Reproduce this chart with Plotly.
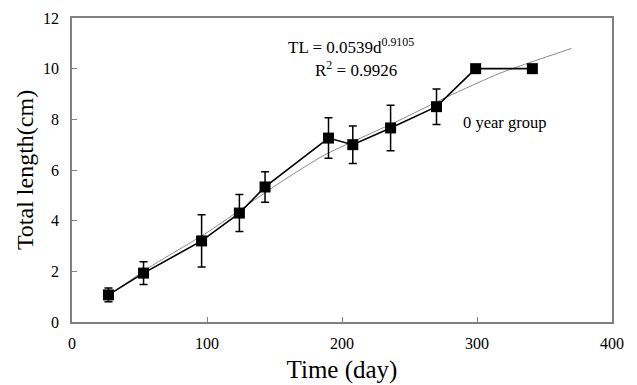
import plotly.graph_objects as go

# Observed data (0 year group)
days = [27, 53, 96, 124, 143, 190, 208, 236, 270, 299, 341]
total_length = [1.07, 1.93, 3.2, 4.3, 5.33, 7.26, 7.0, 7.66, 8.5, 10.0, 10.0]
err = [0.27, 0.45, 1.03, 0.73, 0.6, 0.8, 0.74, 0.9, 0.7, 0, 0]

# Trend line
trend_days = [27, 58, 100, 154, 187, 240, 278, 317, 370]
trend_tl = [1.05, 2.18, 3.53, 5.5, 6.59, 7.9, 8.89, 9.82, 10.8]

font_family = "Liberation Serif"

fig = go.Figure()
fig.add_trace(go.Scatter(
    x=trend_days, y=trend_tl, mode="lines",
    line=dict(color="#8a8a8a", width=1, shape="spline", smoothing=0.6),
    showlegend=False, hoverinfo="skip"))
fig.add_trace(go.Scatter(
    x=days, y=total_length, mode="lines+markers",
    line=dict(color="black", width=1.6),
    marker=dict(symbol="square", size=11, color="black"),
    error_y=dict(type="data", array=err, visible=True, color="black",
                 thickness=1.5, width=4),
    showlegend=False))

fig.add_annotation(x=207, y=10.88, xref="x", yref="y",
                   text="TL = 0.0539d<sup>0.9105</sup>", showarrow=False,
                   font=dict(family=font_family, size=17, color="black"))
fig.add_annotation(x=210, y=9.98, xref="x", yref="y",
                   text="R<sup>2</sup> = 0.9926", showarrow=False,
                   font=dict(family=font_family, size=17, color="black"))
fig.add_annotation(x=320, y=7.86, xref="x", yref="y",
                   text="0 year group", showarrow=False,
                   font=dict(family=font_family, size=16.5, color="black"))

axis_common = dict(
    showline=True, linecolor="#808080", linewidth=1.5, mirror=True,
    ticks="inside", ticklen=5, tickcolor="#808080", tickwidth=1,
    showgrid=False, zeroline=False, automargin=False,
    tickfont=dict(family=font_family, size=16, color="black"),
)

fig.update_layout(
    width=637, height=385,
    margin=dict(l=72, r=25, t=18, b=63),
    plot_bgcolor="white", paper_bgcolor="white",
    xaxis=dict(range=[0, 400], tickvals=[0, 100, 200, 300, 400],
               title=dict(text="Time (day)", standoff=10,
                          font=dict(family=font_family, size=25, color="black")),
               ticklabelstandoff=6,
               **axis_common),
    yaxis=dict(range=[0, 12], tickvals=[0, 2, 4, 6, 8, 10, 12],
               title=dict(text="Total length(cm)", standoff=3,
                          font=dict(family=font_family, size=24, color="black")),
               ticklabelstandoff=8,
               **axis_common),
)

fig.write_html("out.html")
